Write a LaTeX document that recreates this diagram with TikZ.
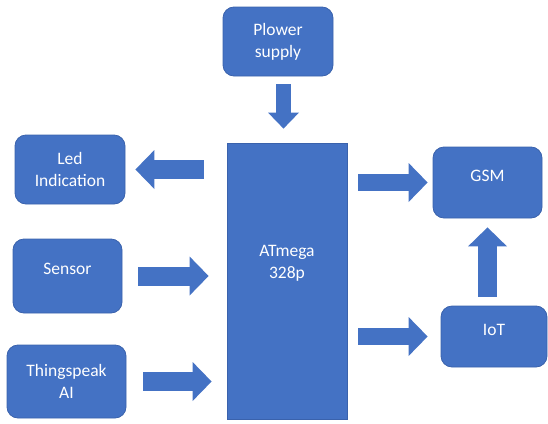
\documentclass[tikz,border=0pt]{standalone}
\usepackage{fontspec}
\setmainfont{Carlito}
\usetikzlibrary{arrows.meta}
\definecolor{blockblue}{HTML}{4472C4}
\definecolor{edgeblue}{HTML}{3A62AC}
\tikzset{
  box/.style={draw=edgeblue, line width=0.8pt, fill=blockblue, text=white,
    rounded corners=11pt, align=center,
    font=\fontsize{17.5}{22}\selectfont},
  lifted/.style={text depth=#1},
  fat/.style={draw=blockblue, line width=19pt,
    -{Triangle[length=19pt, width=39pt, line width=0pt]}}
}
\begin{document}
\begin{tikzpicture}[x=1pt, y=-1pt]
      \useasboundingbox (0,0) rectangle (548,423);
      \path
        (278,41.5) node[box, minimum width=110pt, minimum height=69pt] (pow){Plower\\supply}
        (70,169.5) node[box, minimum width=110pt, minimum height=69pt] (led){Led\\Indication}
        (67.5,276) node[box, lifted=14pt, minimum width=109pt, minimum height=74pt] (sen){Sensor}
        (66.5,381.5) node[box, minimum width=119pt, minimum height=73pt] (tsp){Thingspeak\\AI}
        (287,281) node[box, rounded corners=0pt, lifted=38pt, minimum width=120pt, minimum height=276pt] (atm){ATmega\\328p}
        (487.5,182.5) node[box, lifted=13pt, minimum width=109pt, minimum height=71pt] (gsm){GSM}
        (494,336.5) node[box, lifted=13pt, minimum width=106pt, minimum height=61pt] (iot){IoT};
      \coordinate (pin) at ([xshift=5.5pt]pow.south);
      \begin{scope}[fat]
        \draw[line width=15pt, -{Triangle[length=16pt, width=31pt, line width=0pt]},
          shorten <=8pt, shorten >=14pt] (pin) to (pin |- atm.north);
        \draw[shorten <=23pt, shorten >=10pt] (atm.west |- led.east) to (led.east);
        \draw[shorten <=16pt, shorten >=18pt] (sen.east) to (atm.west |- sen.east);
        \draw[shorten <=17pt, shorten >=15pt] (tsp.east) to (atm.west |- tsp.east);
        \draw[line width=17.5pt, shorten <=11pt, shorten >=5pt] (atm.east |- gsm.west) to (gsm.west);
        \draw[line width=17.5pt, shorten <=11pt, shorten >=13pt] (atm.east |- iot.west) to (iot.west);
        \draw[shorten <=9pt, shorten >=9pt] (gsm.south |- iot.north) to (gsm.south);
      \end{scope}
    \end{tikzpicture}
\end{document}
